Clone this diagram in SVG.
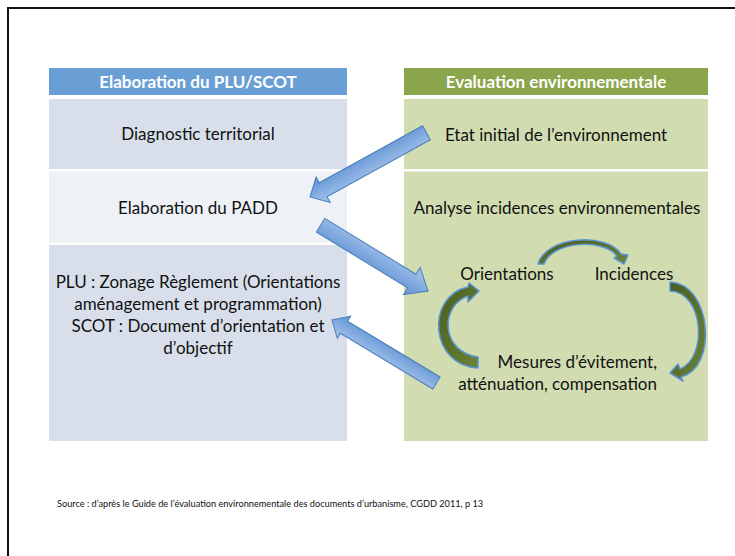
<svg xmlns="http://www.w3.org/2000/svg" width="735" height="556" viewBox="0 0 735 556">
<defs>
<linearGradient id="blueG" x1="0" y1="0" x2="0" y2="1">
<stop offset="0" stop-color="#a9c5eb"/>
<stop offset="0.5" stop-color="#82abe0"/>
<stop offset="1" stop-color="#5f91d2"/>
</linearGradient>
<linearGradient id="greenG" x1="0" y1="0" x2="1" y2="1">
<stop offset="0" stop-color="#4a5d22"/>
<stop offset="1" stop-color="#6a8434"/>
</linearGradient>
<style>
.hdr{font-family:Lato,"Liberation Sans",sans-serif;font-weight:bold;font-size:17px;fill:#fff;text-anchor:middle}
.t{font-family:Lato,"Liberation Sans",sans-serif;font-size:17px;fill:#111;text-anchor:middle}
.src{font-family:Lato,"Liberation Sans",sans-serif;font-size:9.2px;fill:#111}
.barrow{fill:url(#blueG);stroke:#4a7ebb;stroke-width:1}
.garrow{fill:url(#greenG);stroke:#5b93d6;stroke-width:1.5;stroke-linejoin:round}
.lrow{fill:#d8dfeb}
.lrow2{fill:#eef2f7}
.rrow{fill:#d1ddb0}
</style>
</defs>
<rect x="0" y="0" width="735" height="556" fill="#fff"/>
<rect x="8" y="8" width="800" height="700" fill="none" stroke="#111" stroke-width="2"/>

<g id="left-header">
<rect x="49" y="68" width="298" height="27" fill="#6a9fd6"/>
<text class="hdr" x="198" y="88">Elaboration du PLU/SCOT</text>
</g>
<g id="diagnostic">
<rect class="lrow" x="49" y="99" width="298" height="70"/>
<text class="t" x="198" y="140">Diagnostic territorial</text>
</g>
<g id="padd">
<rect class="lrow2" x="49" y="171.5" width="298" height="71"/>
<text class="t" x="198" y="214">Elaboration du PADD</text>
</g>
<g id="plu-scot">
<rect class="lrow" x="49" y="245" width="298" height="196"/>
<text class="t" x="198" y="288">PLU : Zonage Règlement (Orientations</text>
<text class="t" x="198" y="310">aménagement et programmation)</text>
<text class="t" x="198" y="332">SCOT : Document d’orientation et</text>
<text class="t" x="198" y="354">d’objectif</text>
</g>

<g id="right-header">
<rect x="404" y="68" width="304" height="27" fill="#8ba54c"/>
<text class="hdr" x="556" y="88">Evaluation environnementale</text>
</g>
<g id="etat-initial">
<rect class="rrow" x="404" y="99" width="304" height="70"/>
<text class="t" x="556" y="141">Etat initial de l’environnement</text>
</g>
<g id="analyse">
<rect class="rrow" x="404" y="171.5" width="304" height="269.5"/>
<text class="t" x="557" y="214">Analyse incidences environnementales</text>
</g>
<g id="orientations">
<text class="t" x="507" y="280">Orientations</text>
</g>
<g id="incidences">
<text class="t" x="634" y="280">Incidences</text>
</g>
<g id="mesures">
<text class="t" x="657" y="368" style="text-anchor:end">Mesures d’évitement,</text>
<text class="t" x="657" y="390" style="text-anchor:end">atténuation, compensation</text>
</g>

<g id="connectors">
<polygon class="barrow" transform="translate(310 197) rotate(151.1)" points="-133,-8 -15,-8 -15,-14.5 0,0 -15,14.5 -15,8 -133,8"/>
<polygon class="barrow" transform="translate(428 291) rotate(31.5)" points="-126,-8 -19,-8 -19,-16 0,0 -19,16 -19,8 -126,8"/>
<polygon class="barrow" transform="translate(332 320) rotate(211.1)" points="-122,-7 -14,-7 -14,-13 0,0 -14,13 -14,7 -122,7"/>
<path class="garrow" d="M 538 264 C 546 236, 606 232, 621 254 L 628 255 L 624 264 L 614 258 L 617 256 C 604 238, 552 241, 544 264 Z"/>
<path class="garrow" d="M 670 282 C 712 284, 718 368, 681 377 L 683 381 L 670 373 L 678 364 L 680 369 C 708 358, 704 292, 670 291 Z"/>
<path class="garrow" d="M 478 368 C 430 366, 425 296, 468 287 L 469 283 L 479 291 L 468 302 L 468 296 C 440 305, 440 352, 478 357 Z"/>
</g>

<text class="src" x="57" y="507">Source : d’après le Guide de l’évaluation environnementale des documents d’urbanisme, CGDD 2011, p 13</text>
</svg>
